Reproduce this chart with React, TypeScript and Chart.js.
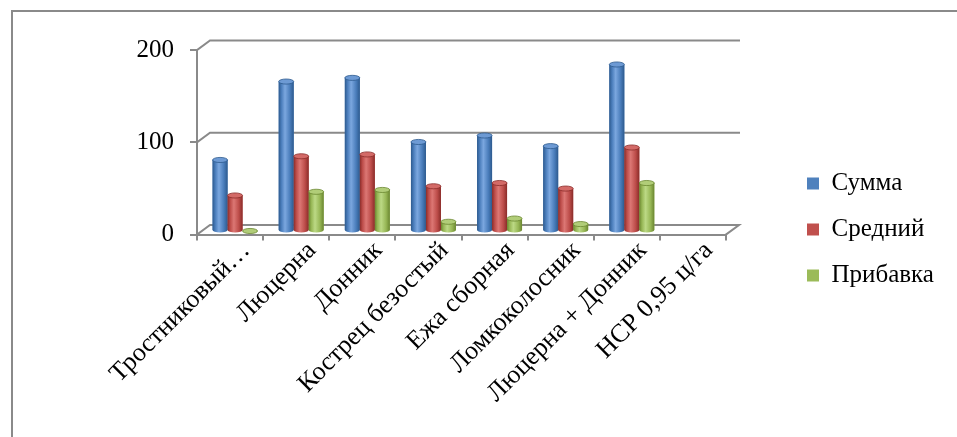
import React, { useEffect, useRef } from "react";
import { Chart, registerables } from "chart.js";

Chart.register(...registerables);

const categories = [
  "Тростниковый…",
  "Люцерна",
  "Донник",
  "Кострец безостый",
  "Ежа сборная",
  "Ломкоколосник",
  "Люцерна + Донник",
  "НСР 0,95 ц/га",
];
const seriesNames = ["Сумма", "Средний", "Прибавка"];
const sumValues = [77, 162, 166, 96.5, 103.5, 92, 180.5, null];
const avgValues = [38.5, 81, 83, 48.5, 52, 46, 90.5, null];
const addValues = [0, 42.5, 44.5, 10, 13.5, 7.5, 52, null];
const yTicks = [0, 100, 200];

const baseColors = ["#4F81BD", "#C0504D", "#9BBB59"];
const shades = [
  { dark: "#2d5a8e", mid: "#4a7dbb", light: "#7ba7df", top: "#6d9ad4", edge: "#2d5a8e" },
  { dark: "#8a2c29", mid: "#bd4d4a", light: "#dc7774", top: "#d36a67", edge: "#8a2c29" },
  { dark: "#6a8630", mid: "#97b756", light: "#bcd985", top: "#b1cd78", edge: "#6a8630" },
];

const FONT = '"Times New Roman", "Liberation Serif", serif';
const GRAY = "#8a8a8a";
const WALL_DX = 13;
const WALL_DY = -9.5;
const BAR_DX = 5;
const BAR_DY = -3.5;

const threeD = {
  id: "threeD",
  afterLayout(chart: any) {
    const lg = chart.legend;
    if (lg) {
      const w = lg.width;
      lg.left = 786;
      lg.right = 786 + w;
    }
  },
  beforeDraw(chart: any) {
    const ctx = chart.ctx;
    ctx.save();
    ctx.strokeStyle = GRAY;
    ctx.lineWidth = 2;
    ctx.strokeRect(12, 11, 2000, 2000);
    ctx.restore();
  },
  beforeDatasetsDraw(chart: any) {
    const ctx = chart.ctx;
    const xs = chart.scales.x;
    const ys = chart.scales.y;
    const l = xs.left;
    const r = xs.right;
    ctx.save();
    ctx.strokeStyle = GRAY;
    ctx.lineWidth = 2;
    ctx.lineCap = "square";
    yTicks.forEach((v) => {
      const y = ys.getPixelForValue(v);
      ctx.beginPath();
      ctx.moveTo(l, y);
      ctx.lineTo(l + WALL_DX, y + WALL_DY);
      ctx.lineTo(r + WALL_DX, y + WALL_DY);
      if (v === 0) ctx.lineTo(r, y);
      ctx.stroke();
    });
    ctx.restore();
    ctx.save();
    ctx.translate(BAR_DX, BAR_DY);
  },
  afterDatasetsDraw(chart: any) {
    const ctx = chart.ctx;
    chart.data.datasets.forEach((ds: any, di: number) => {
      const meta = chart.getDatasetMeta(di);
      const sh = shades[di];
      meta.data.forEach((el: any, i: number) => {
        if (ds.data[i] === null || ds.data[i] === undefined) return;
        const p = el.getProps(["x", "y", "base", "width"], true);
        if (!isFinite(p.y) || !isFinite(p.base)) return;
        const w = p.width;
        const x = p.x;
        const lft = x - w / 2;
        const rgt = x + w / 2;
        const ry = Math.max(2, w * 0.17);
        const top = Math.min(p.y, p.base);
        const base = p.base;
        const g = ctx.createLinearGradient(lft, 0, rgt, 0);
        g.addColorStop(0, sh.dark);
        g.addColorStop(0.18, sh.mid);
        g.addColorStop(0.42, sh.light);
        g.addColorStop(0.75, sh.mid);
        g.addColorStop(1, sh.dark);
        if (base - top > 0.5) {
          ctx.beginPath();
          ctx.moveTo(lft, top);
          ctx.lineTo(lft, base);
          ctx.ellipse(x, base, w / 2, ry, 0, Math.PI, 0, true);
          ctx.lineTo(rgt, top);
          ctx.closePath();
          ctx.fillStyle = g;
          ctx.fill();
        }
        ctx.beginPath();
        ctx.ellipse(x, top, w / 2, ry, 0, 0, Math.PI * 2);
        ctx.fillStyle = sh.top;
        ctx.fill();
        ctx.lineWidth = 0.8;
        ctx.strokeStyle = sh.edge;
        ctx.stroke();
      });
    });
    ctx.restore();
  },
};

export default function App() {
  const ref = useRef<HTMLCanvasElement | null>(null);
  useEffect(() => {
    if (!ref.current) return;
    const chart = new Chart(ref.current, {
      type: "bar",
      data: {
        labels: categories,
        datasets: [
          { label: seriesNames[0], data: sumValues, backgroundColor: baseColors[0] },
          { label: seriesNames[1], data: avgValues, backgroundColor: baseColors[1] },
          { label: seriesNames[2], data: addValues, backgroundColor: baseColors[2] },
        ],
      },
      options: {
        responsive: false,
        animation: false,
        events: [],
        layout: { padding: { top: 22, left: 0, right: 0, bottom: 0 } },
        datasets: { bar: { categoryPercentage: 0.68, barPercentage: 1 } } as any,
        plugins: {
          tooltip: { enabled: false },
          legend: {
            position: "right",
            labels: {
              color: "#000",
              font: { family: FONT, size: 25 },
              boxWidth: 12,
              boxHeight: 12,
              padding: 21,
            },
          },
        },
        scales: {
          x: {
            grid: {
              display: true,
              drawOnChartArea: false,
              drawTicks: true,
              tickLength: 6,
              color: GRAY,
              lineWidth: 2,
              offset: true,
            },
            border: { display: true, color: GRAY, width: 2 },
            ticks: {
              autoSkip: false,
              maxRotation: 45,
              minRotation: 45,
              color: "#000",
              font: { family: FONT, size: 26 },
              padding: -5,
              labelOffset: 16,
            },
            afterFit(scale: any) {
              scale.height = 437 - 234.5;
              scale.paddingLeft = 0;
              scale.paddingRight = 957 - 726;
            },
          },
          y: {
            min: 0,
            max: 200,
            ticks: {
              stepSize: 100,
              color: "#000",
              font: { family: FONT, size: 25 },
              padding: 16,
            },
            grid: {
              display: true,
              drawOnChartArea: false,
              drawTicks: true,
              tickLength: 7,
              color: GRAY,
              lineWidth: 2,
            },
            border: { display: true, color: GRAY, width: 2 },
            afterFit(scale: any) {
              scale.width = 197;
              scale.paddingTop = 50;
            },
          },
        },
      },
      plugins: [threeD],
    });
    return () => chart.destroy();
  }, []);
  return (
    <div style={{ position: "fixed", left: 0, top: 0, width: 957, height: 437, background: "#fff" }}>
      <canvas ref={ref} width={957} height={437} style={{ display: "block" }} />
    </div>
  );
}
